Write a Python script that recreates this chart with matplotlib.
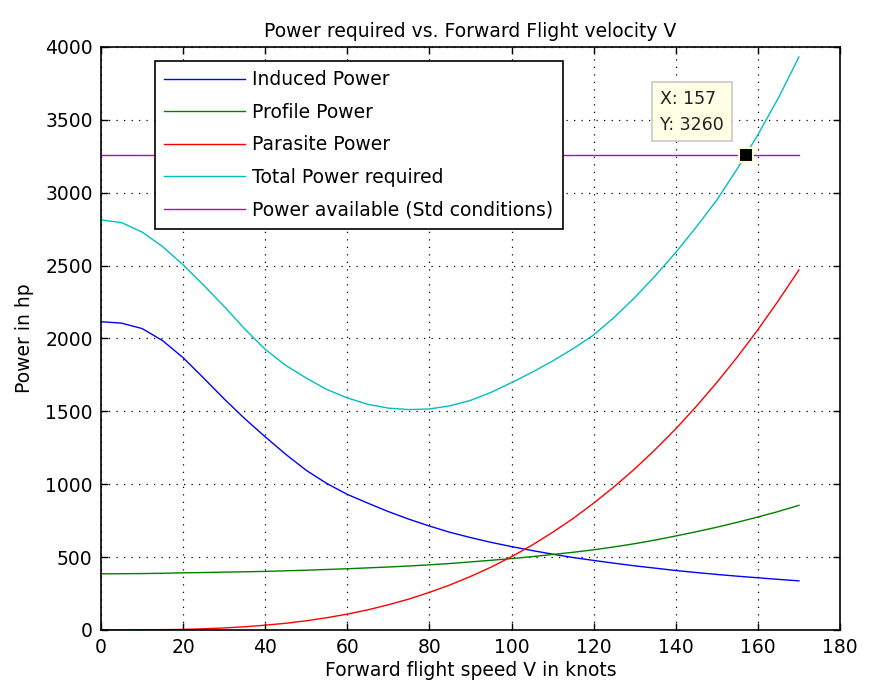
import numpy as np
import matplotlib
matplotlib.use("Agg")
import matplotlib.pyplot as plt

# Forward flight speed in knots
speed = [0, 5, 10, 15, 20, 25, 30, 35, 40, 45, 50, 55, 60, 65, 70, 75, 80, 85,
         90, 95, 100, 105, 110, 115, 120, 125, 130, 135, 140, 145, 150, 155,
         160, 165, 170]

# Power values in hp
inducedPower = [2115, 2105, 2068, 1985, 1868, 1728, 1585, 1450, 1325, 1205,
                1095, 1005, 930, 870, 812, 760, 713, 670, 634, 601, 572, 545,
                520, 497, 477, 458, 440, 424, 408, 394, 381, 369, 358, 347, 337]
profilePower = [385, 386, 387, 389, 392, 394, 397, 399, 402, 406, 410, 415,
                420, 426, 432, 439, 447, 456, 467, 478, 490, 503, 518, 533,
                550, 570, 592, 617, 645, 674, 705, 739, 775, 813, 855]
parasitePower = [0, 0, 1, 2, 4, 8, 14, 22, 33, 46, 63, 84, 109, 138, 173,
                 212, 258, 309, 367, 431, 503, 582, 670, 765, 870, 983, 1105,
                 1238, 1380, 1534, 1698, 1873, 2060, 2260, 2470]
totalPower = [2813, 2795, 2730, 2630, 2505, 2365, 2220, 2065, 1925, 1815,
              1728, 1650, 1592, 1548, 1522, 1512, 1516, 1538, 1575, 1630,
              1697, 1768, 1845, 1930, 2024, 2145, 2280, 2430, 2590, 2765,
              2950, 3165, 3398, 3650, 3931]
availablePower = 3260

# Data tip
tipX = 157
tipY = 3260

labels = ["Induced Power", "Profile Power", "Parasite Power",
          "Total Power required", "Power available (Std conditions)"]
colors = [(0, 0, 1), (0, 0.5, 0), (1, 0, 0), (0, 0.75, 0.75), (0.75, 0, 0.75)]

plt.rcParams['font.family'] = ['DejaVu Sans']
plt.rcParams['font.size'] = 13.5

fig = plt.figure(figsize=(8.73, 6.9), dpi=100)
ax = fig.add_axes([0.1157, 0.087, 0.8465, 0.845])

series = [inducedPower, profilePower, parasitePower, totalPower,
          [availablePower] * len(speed)]
for values, label, color in zip(series, labels, colors):
    ax.plot(speed, values, color=color, linewidth=1.0, label=label)

# data tip marker and box
ax.plot([tipX], [tipY], marker='s', markersize=10, color='black',
        markeredgecolor='#fffbd0', markeredgewidth=1.5, zorder=5)
ax.text(136.2, 3705, "X: %d\nY: %d" % (tipX, tipY), fontsize=12.5,
        ha='left', va='top', linespacing=1.55, zorder=6, color='#202020',
        bbox=dict(boxstyle='square,pad=0.45', facecolor='#ffffe6',
                  edgecolor='#c8c8c8', linewidth=1.2))

ax.set_xlim(0, 180)
ax.set_ylim(0, 4000)
ax.set_xticks(np.arange(0, 181, 20))
ax.set_yticks(np.arange(0, 4001, 500))
ax.tick_params(direction='in', top=True, right=True, length=5, width=1,
               labelsize=13.5, pad=6)
for spine in ax.spines.values():
    spine.set_linewidth(1.2)
ax.grid(True, color='black', linestyle=(0, (1, 5)), linewidth=0.9)

ax.set_title("Power required vs. Forward Flight velocity V", fontsize=13.5,
             pad=7)
ax.set_xlabel("Forward flight speed V in knots", fontsize=13.5, labelpad=3)
ax.set_ylabel("Power in hp", fontsize=13.5, labelpad=8)

leg = ax.legend(loc='upper left', bbox_to_anchor=(0.073, 0.976),
                borderaxespad=0, fontsize=13.5, fancybox=False, framealpha=1,
                edgecolor='black', handlelength=4.3, handletextpad=0.4,
                labelspacing=0.72, borderpad=0.5)
leg.get_frame().set_linewidth(1.2)

fig.savefig("out.png", dpi=100)
